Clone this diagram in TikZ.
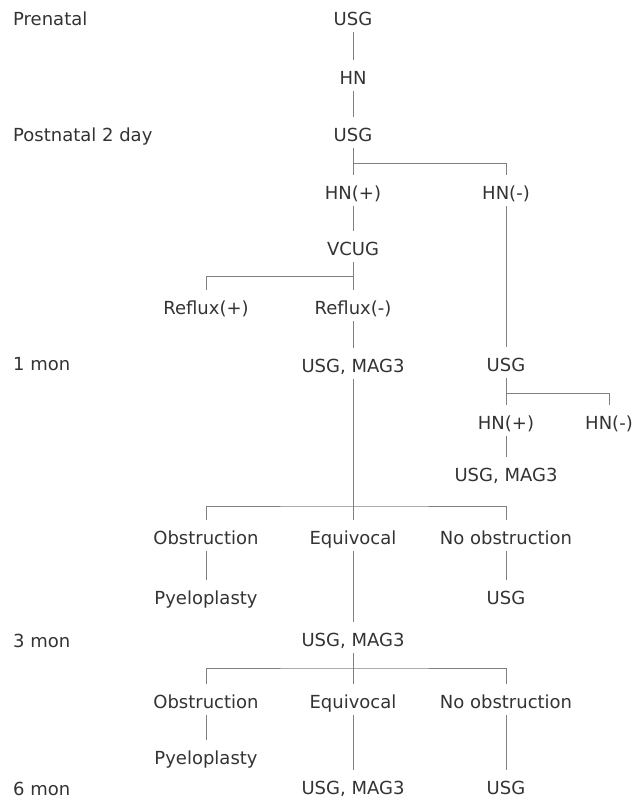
\documentclass[tikz,border=0pt]{standalone}
\usepackage{fontspec}
\setmainfont{DejaVu Sans}

\begin{document}
\begin{tikzpicture}[x=1bp,y=-1bp,
	item/.style={font=\fontsize{18bp}{21bp}\selectfont, text=black!80,
		inner xsep=0pt, inner ysep=0pt, text height=24bp, text depth=6.5bp,
		anchor=base, yshift=-6.5bp},
	stage/.style={item, anchor=base west},
	link/.style={draw=black!50, line width=1bp}]

	\useasboundingbox (0,0) rectangle (637,801);

	% time points
	\node[stage] (tPre)  at (13,19)  {Prenatal};
	\node[stage] (tPost) at (13,135) {Postnatal 2 day};
	\node[stage] (tOne)  at (13,364) {1 mon};
	\node[stage] (tThr)  at (13,641) {3 mon};
	\node[stage] (tSix)  at (13,789) {6 mon};

	% main column
	\node[item] (usgA)  at (353,19)  {USG};
	\node[item] (hn)    at (353,78)  {HN};
	\node[item] (usgB)  at (353,135) {USG};
	\node[item] (hnP)   at (353,193) {HN(+)};
	\node[item] (vcug)  at (353,249) {VCUG};
	\node[item] (refM)  at (353,308) {Reflux(-)};
	\node[item] (usgM1) at (353,366) {USG, MAG3};
	\node[item] (equ1)  at (353,538) {Equivocal};
	\node[item] (usgM3) at (353,640) {USG, MAG3};
	\node[item] (equ2)  at (353,702) {Equivocal};
	\node[item] (usgM4) at (353,788) {USG, MAG3};

	% left column
	\node[item] (refP)  at (206,308) {Reflux(+)};
	\node[item] (obs1)  at (206,538) {Obstruction};
	\node[item] (pyel1) at (206,598) {Pyeloplasty};
	\node[item] (obs2)  at (206,702) {Obstruction};
	\node[item] (pyel2) at (206,758) {Pyeloplasty};

	% right columns
	\node[item] (hnM)   at (506,193) {HN(-)};
	\node[item] (usgR)  at (506,365) {USG};
	\node[item] (hnP2)  at (506,423) {HN(+)};
	\node[item] (hnM2)  at (609,423) {HN(-)};
	\node[item] (usgM2) at (506,475) {USG, MAG3};
	\node[item] (nob1)  at (506,538) {No obstruction};
	\node[item] (usgN1) at (506,598) {USG};
	\node[item] (nob2)  at (506,702) {No obstruction};
	\node[item] (usgN2) at (506,788) {USG};

	% branch points
	\coordinate (j1) at (353,163);
	\coordinate (j2) at (353,276.5);
	\coordinate (j3) at (506,393.5);
	\coordinate (j4) at (353,506);
	\coordinate (j5) at (353,668);

	% connectors
	\draw[link] (usgA) -- (hn);
	\draw[link] (hn) -- (usgB);
	\draw[link] (usgB) -- (hnP);
	\draw[link] (j1) -| (hnM);
	\draw[link] (hnP) -- (vcug);
	\draw[link] (vcug) -- (refM);
	\draw[link] (j2) -| (refP);
	\draw[link] (refM) -- (usgM1);
	\draw[link] (hnM) -- (usgR);
	\draw[link] (usgR) -- (hnP2);
	\draw[link] (j3) -| (hnM2);
	\draw[link] (hnP2) -- (usgM2);

	\draw[link] (usgM1) -- (equ1);
	\draw[link] (obs1) |- (j4) -| (nob1);
	\draw[link] (obs1) -- (pyel1);
	\draw[link] (nob1) -- (usgN1);
	\draw[link] (equ1) -- (usgM3);

	\draw[link] (usgM3) -- (equ2);
	\draw[link] (obs2) |- (j5) -| (nob2);
	\draw[link] (obs2) -- (pyel2);
	\draw[link] (equ2) -- (usgM4);
	\draw[link] (nob2) -- (usgN2);

\end{tikzpicture}
\end{document}
